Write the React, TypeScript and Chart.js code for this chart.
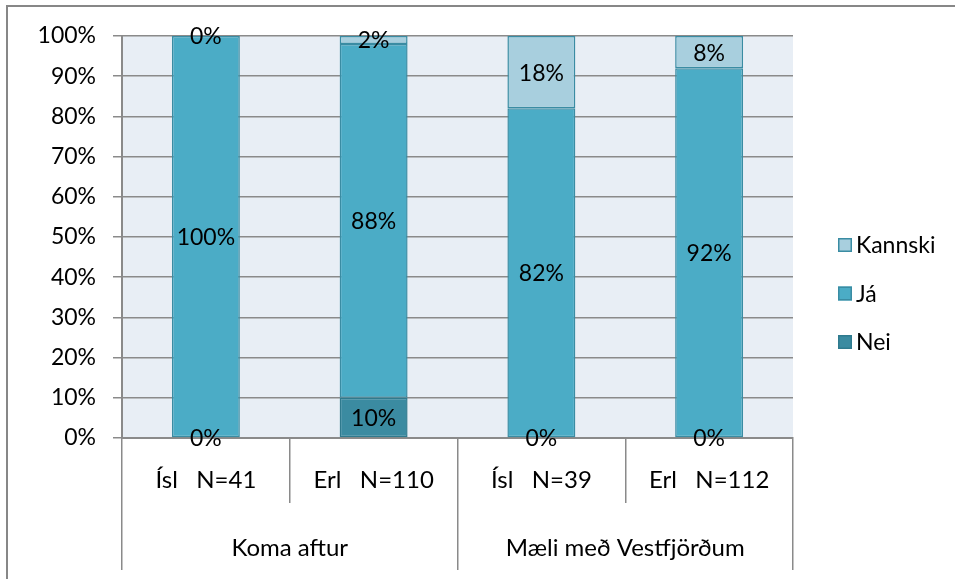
import React, { useEffect, useRef } from "react";
import { Chart, registerables } from "chart.js";

Chart.register(...registerables);

const categories = ["Ísl   N=41", "Erl   N=110", "Ísl   N=39", "Erl   N=112"];
const groups = ["Koma aftur", "Mæli með Vestfjörðum"];
const neiValues = [0, 10, 0, 0];
const jaValues = [100, 88, 82, 92];
const kannskiValues = [0, 2, 18, 8];
const yTicks = [0, 10, 20, 30, 40, 50, 60, 70, 80, 90, 100];

const FONT = "Lato";
const FS = 23;
const FSX = 24;
const GRID = "#8a8a8a";

const bgPlugin = {
  id: "plotBg",
  beforeDraw(chart: any) {
    const { ctx, chartArea } = chart;
    ctx.save();
    ctx.fillStyle = "#e8eef5";
    ctx.fillRect(chartArea.left, chartArea.top, chartArea.right - chartArea.left, chartArea.bottom - chartArea.top);
    ctx.restore();
  },
};

const labelPlugin = {
  id: "segLabels",
  afterDatasetsDraw(chart: any) {
    const { ctx } = chart;
    ctx.save();
    ctx.font = `${FS}px ${FONT}`;
    ctx.fillStyle = "#000";
    ctx.textAlign = "center";
    ctx.textBaseline = "middle";
    chart.data.datasets.forEach((ds: any, di: number) => {
      const meta = chart.getDatasetMeta(di);
      meta.data.forEach((el: any, i: number) => {
        const v = ds.data[i];
        const y = (el.y + el.base) / 2;
        ctx.fillText(`${v}%`, el.x, y + 1);
      });
    });
    ctx.restore();
  },
};

const legendPlugin = {
  id: "sideLegend",
  afterDraw(chart: any) {
    const { ctx, chartArea } = chart;
    const items = chart.data.datasets.map((d: any) => d).reverse();
    const spacing = 48.5;
    const cy = chart.height / 2 + 4;
    const startY = cy - ((items.length - 1) * spacing) / 2;
    const bx = chartArea.right + 45;
    ctx.save();
    ctx.font = `${FS}px ${FONT}`;
    ctx.textBaseline = "middle";
    ctx.textAlign = "left";
    items.forEach((d: any, i: number) => {
      const y = startY + i * spacing;
      ctx.fillStyle = d.backgroundColor;
      ctx.fillRect(bx, y - 7, 14, 14);
      ctx.strokeStyle = d.borderColor;
      ctx.lineWidth = 1.5;
      ctx.strokeRect(bx + 0.75, y - 6.25, 12.5, 12.5);
      ctx.fillStyle = "#000";
      ctx.fillText(d.label, bx + 18, y + 1);
    });
    ctx.restore();
  },
};

export default function App() {
  const ref = useRef<HTMLCanvasElement>(null);
  useEffect(() => {
    document.body.style.margin = "0";
    document.body.style.overflow = "hidden";
    const chart = new Chart(ref.current!, {
      type: "bar",
      data: {
        labels: categories,
        datasets: [
          { label: "Nei", data: neiValues, backgroundColor: "#3b8ba1", borderColor: "#2f7a8e" },
          { label: "Já", data: jaValues, backgroundColor: "#4bacc6", borderColor: "#3a8ca3" },
          { label: "Kannski", data: kannskiValues, backgroundColor: "#a8cfde", borderColor: "#3a8ca3" },
        ].map((d) => ({
          ...d,
          borderWidth: 1.5,
          borderSkipped: false as any,
          categoryPercentage: 1,
          barPercentage: 0.405,
        })),
      },
      options: {
        animation: false,
        responsive: false,
        maintainAspectRatio: false,
        layout: { padding: { left: 0, top: 36, right: 162, bottom: 9 } },
        plugins: { legend: { display: false }, tooltip: { enabled: false } },
        scales: {
          x: {
            type: "category",
            position: "bottom",
            stacked: true,
            offset: true,
            grid: { offset: true, drawOnChartArea: false, drawTicks: true, tickLength: 65, color: GRID, lineWidth: 1.5 },
            border: { display: true, color: GRID, width: 2 },
            ticks: { color: "#000", font: { family: FONT, size: FSX }, padding: -37.5, autoSkip: false, maxRotation: 0 },
            afterFit: (s: any) => { s.height = 65; },
          },
          x2: {
            type: "category",
            position: "bottom",
            labels: groups,
            offset: true,
            grid: { offset: true, drawOnChartArea: false, drawTicks: true, tickLength: 67, color: GRID, lineWidth: 1.5 },
            border: { display: false },
            ticks: { color: "#000", font: { family: FONT, size: FSX }, padding: -36.5, autoSkip: false, maxRotation: 0 },
            afterFit: (s: any) => { s.height = 67; },
          },
          y: {
            stacked: true,
            min: 0,
            max: 100,
            afterBuildTicks: (s: any) => { s.ticks = yTicks.map((v) => ({ value: v })); },
            grid: { color: GRID, lineWidth: 1.5, drawTicks: true, tickLength: 9 },
            border: { display: true, color: GRID, width: 2 },
            ticks: { color: "#000", font: { family: FONT, size: FS }, padding: 17, callback: (v: any) => `${v}%` },
            afterFit: (s: any) => { s.width = 122; },
          },
        },
      },
      plugins: [bgPlugin, labelPlugin, legendPlugin],
    });
    return () => chart.destroy();
  }, []);
  return (
    <div style={{ position: "fixed", left: 0, top: 0, width: 955, height: 579, background: "#fff" }}>
      <div style={{ position: "absolute", left: 6, top: 5, right: 0, bottom: 0, borderTop: "2px solid #878787", borderLeft: "2px solid #878787" }} />
      <canvas ref={ref} width={955} height={579} style={{ position: "absolute", left: 0, top: 0 }} />
    </div>
  );
}
